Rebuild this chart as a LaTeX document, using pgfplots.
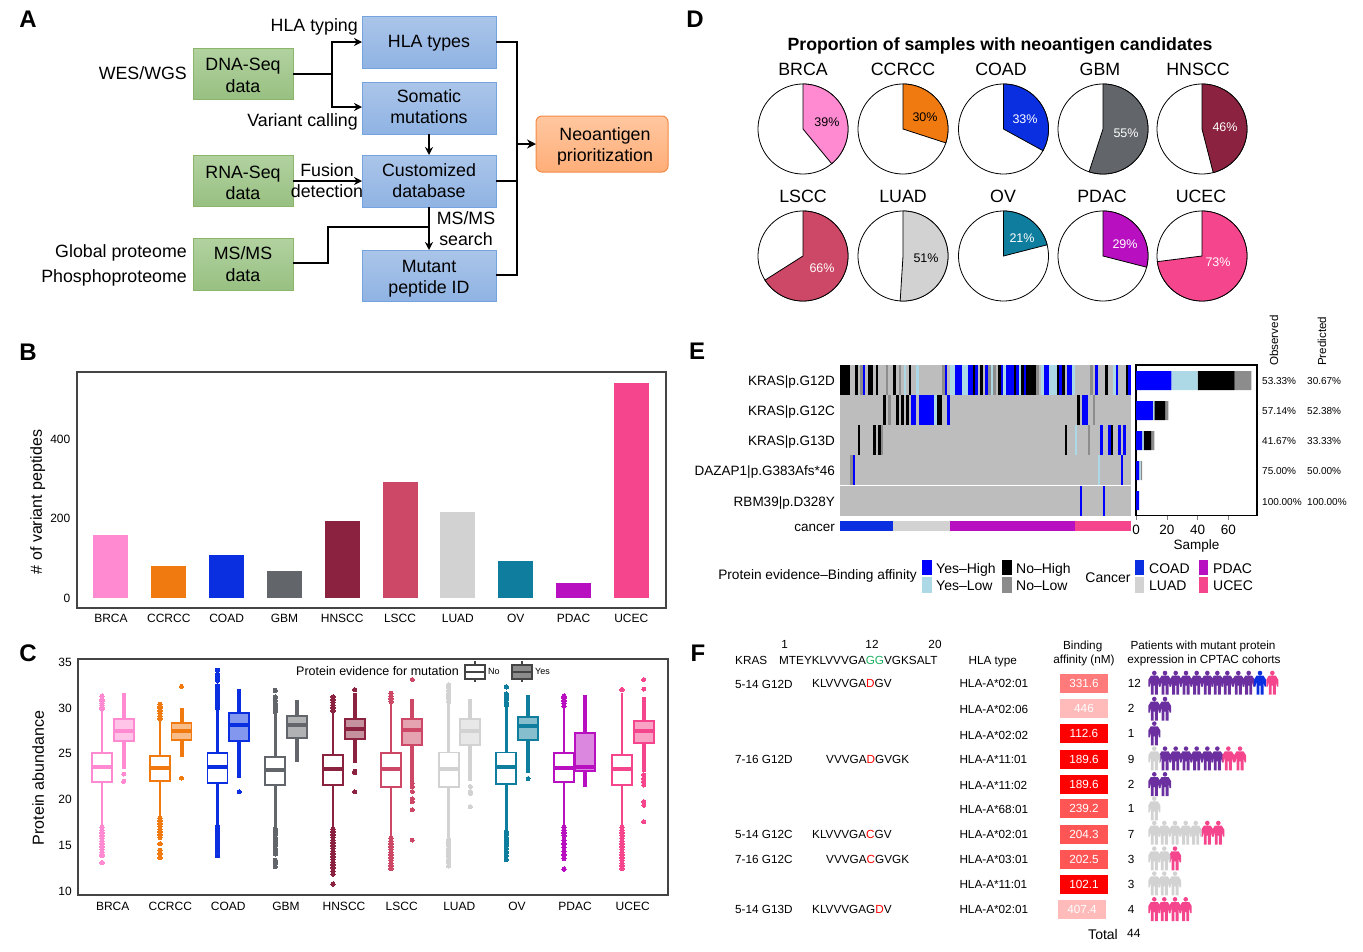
\documentclass[border=0pt]{standalone}
\usepackage{fontspec}
\setmainfont{Liberation Sans}
\usepackage{pgfplots}
\pgfplotsset{compat=1.18}
\usepgfplotslibrary{statistics}
\usetikzlibrary{arrows.meta}
\newcommand\fs[1]{\fontsize{#1}{#1}\selectfont}
\definecolor{cBR}{HTML}{FF8AD2}
\definecolor{cCC}{HTML}{F07A10}
\definecolor{cCO}{HTML}{0A2FE0}
\definecolor{cGB}{HTML}{62666A}
\definecolor{cHN}{HTML}{8B2340}
\definecolor{cLS}{HTML}{CC4866}
\definecolor{cLU}{HTML}{D2D2D2}
\definecolor{cOV}{HTML}{0F7E9E}
\definecolor{cPD}{HTML}{B810C0}
\definecolor{cUC}{HTML}{F5458C}
\definecolor{hb}{HTML}{0000FF}
\definecolor{hl}{HTML}{ADD8E6}
\definecolor{hk}{HTML}{000000}
\definecolor{hg}{HTML}{8C8C8C}
\definecolor{hbg}{HTML}{BDBDBD}
\definecolor{frame}{HTML}{444444}
\definecolor{purp}{HTML}{6B2FA0}
\definecolor{gT}{HTML}{B2D2A0}
\definecolor{gB}{HTML}{98C082}
\definecolor{gE}{HTML}{8AB56A}
\definecolor{bT}{HTML}{ABC5E9}
\definecolor{bB}{HTML}{8FB3E3}
\definecolor{bE}{HTML}{74A3DD}
\definecolor{oT}{HTML}{FFC7A0}
\definecolor{oB}{HTML}{FFAE78}
\definecolor{oE}{HTML}{F28A45}
\definecolor{a1}{HTML}{FF7A7A}
\definecolor{a2}{HTML}{FFBABA}
\definecolor{a3}{HTML}{FF0000}
\definecolor{a4}{HTML}{FF5555}
\definecolor{gr}{HTML}{1DB060}
\newcommand\Tx[5]{\node[anchor=#1,inner sep=0pt,font=\fs{#2},text height={#2*0.72pt},text depth=0pt] at (#3,-#4) {#5};}
\newcommand\Rx[4]{\node[anchor=west,rotate=90,inner sep=0pt,font=\fs{#1},text height={#1*0.72pt},text depth=0pt] at (#2,-#3) {#4};}
\newcommand\Rc[4]{\node[anchor=center,rotate=90,inner sep=0pt,font=\fs{#1},text height={#1*0.72pt},text depth=0pt] at (#2,-#3) {#4};}
\newcommand\Bx[7]{\shade[top color=#5,bottom color=#6,draw=#7,line width=1pt] (#1,-#2) rectangle (#3,-#4);}
% person pictogram
\pgfdeclareplotmark{person}{%
  \pgfpathcircle{\pgfpoint{0pt}{9.7pt}}{2.3pt}%
  \pgfpathmoveto{\pgfpoint{-3.5pt}{7pt}}%
  \pgfpathlineto{\pgfpoint{3.5pt}{7pt}}%
  \pgfpathlineto{\pgfpoint{6pt}{3pt}}%
  \pgfpathlineto{\pgfpoint{6pt}{-4pt}}%
  \pgfpathlineto{\pgfpoint{4.6pt}{-4pt}}%
  \pgfpathlineto{\pgfpoint{3.5pt}{1pt}}%
  \pgfpathlineto{\pgfpoint{3.5pt}{-12pt}}%
  \pgfpathlineto{\pgfpoint{0.6pt}{-12pt}}%
  \pgfpathlineto{\pgfpoint{0.6pt}{-3pt}}%
  \pgfpathlineto{\pgfpoint{-0.6pt}{-3pt}}%
  \pgfpathlineto{\pgfpoint{-0.6pt}{-12pt}}%
  \pgfpathlineto{\pgfpoint{-3.5pt}{-12pt}}%
  \pgfpathlineto{\pgfpoint{-3.5pt}{1pt}}%
  \pgfpathlineto{\pgfpoint{-4.6pt}{-4pt}}%
  \pgfpathlineto{\pgfpoint{-6pt}{-4pt}}%
  \pgfpathlineto{\pgfpoint{-6pt}{3pt}}%
  \pgfpathclose
  \pgfusepathqfill}
% pies
\newcommand\Pie[4]{%
  \addplot[fill=white,draw=black,line width=0.8pt,domain=0:360,samples=90,variable=\t] ({#1+45*sin(\t)},{#2+45*cos(\t)}) -- cycle;
  \addplot[fill=#4,draw=black,line width=0.8pt,domain=0:{#3*3.6},samples=50,variable=\t] ({#1+45*sin(\t)},{#2+45*cos(\t)}) -- (axis cs:#1,#2) -- cycle;
}
% boxplots: color,pos,lw,q1,med,q3,uw,outliers
\newcommand\bxN[8]{\addplot[color=#1,mark=*,mark size=2.2pt,mark options={fill=#1,draw=#1,line width=0pt},
  boxplot prepared={draw position=#2,lower whisker=#3,lower quartile=#4,median=#5,upper quartile=#6,upper whisker=#7,box extend=20,whisker extend=0,
  every box/.style={line width=1.9pt},every median/.style={line width=4pt},every whisker/.style={line width=2.6pt}}] table[row sep=\\,y index=0] {v\\ #8};}
\newcommand\bxY[8]{\addplot[color=#1,mark=*,mark size=2pt,mark options={fill=#1,draw=#1,line width=0pt},
  boxplot prepared={draw position=#2,lower whisker=#3,lower quartile=#4,median=#5,upper quartile=#6,upper whisker=#7,box extend=20,whisker extend=0,
  every median/.style={line width=4pt},every whisker/.style={line width=4pt},every box/.style={line width=1.9pt,fill=#1,fill opacity=0.5,draw opacity=1}}] table[row sep=\\,y index=0] {v\\ #8};}
\newcommand\bxZ[7]{\addplot[color=#1,
  boxplot prepared={draw position=#2,lower whisker=#3,lower quartile=#4,median=#5,upper quartile=#6,upper whisker=#7,box extend=20,whisker extend=0,
  every median/.style={line width=4pt},every whisker/.style={line width=4pt},every box/.style={line width=1.9pt,fill=#1,fill opacity=0.5,draw opacity=1}}] coordinates {};}
\newcommand\sg[4]{\addplot[color=#1,line width=30pt,forget plot] coordinates {(#3,#2) (#4,#2)};}
\newcommand\sgc[4]{\addplot[color=#1,line width=10pt,forget plot] coordinates {(#3,#2) (#4,#2)};}
\newcommand\ppl[2]{\addplot[only marks,mark=person,color=#1,mark options={fill=#1,draw=none},forget plot] coordinates {#2};}
\newcommand\aff[4]{\addplot[color=#1,line width=19pt,forget plot] coordinates {(#2,#4) (#3,#4)};}
\pgfplotsset{pxaxis/.style={scale only axis,hide axis,clip=false}}
\begin{document}
\begin{tikzpicture}[x=1pt,y=1pt]
\useasboundingbox (0,0) rectangle (1363,-951);
% ---------------- Panel letters
\foreach \l/\x/\y in {A/28/19,B/28/352,C/28/653,D/695/19,E/697/351,F/698/653}{
  \node[inner sep=0pt,font=\fs{24}\bfseries,text height=17pt,text depth=0pt] at (\x,-\y) {\l};}
% ---------------- Panel A
\Bx{193}{48}{293}{99}{gT}{gB}{gE}
\Bx{193}{155}{293}{206}{gT}{gB}{gE}
\Bx{193}{238}{293}{290}{gT}{gB}{gE}
\Bx{362}{16}{496}{68}{bT}{bB}{bE}
\Bx{362}{82}{496}{134}{bT}{bB}{bE}
\Bx{362}{155}{496}{207}{bT}{bB}{bE}
\Bx{362}{250}{496}{301}{bT}{bB}{bE}
\shade[top color=oT,bottom color=oB,draw=oE,line width=1pt,rounded corners=6pt] (536,-116) rectangle (668,-172);
\begin{scope}[line width=1.5pt,black]
\draw (293,-74) -- (332,-74);
\draw[-{Stealth[length=8pt,width=8pt]}] (332,-74) |- (362,-42);
\draw[-{Stealth[length=8pt,width=8pt]}] (332,-74) |- (362,-107);
\draw (496,-42) -| (517,-275) -- (496,-275);
\draw (496,-181) -- (517,-181);
\draw[-{Stealth[length=9pt,width=9pt]}] (517,-144) -- (536,-144);
\draw[-{Stealth[length=8pt,width=8pt]}] (429,-134) -- (429,-155);
\draw[-{Stealth[length=8pt,width=8pt]}] (293,-181) -- (362,-181);
\draw[-{Stealth[length=8pt,width=8pt]}] (429,-207) -- (429,-250);
\draw (293,-263) -| (328,-227) -- (429,-227);
\end{scope}
\Tx{center}{17.8}{243}{64}{DNA-Seq}
\Tx{center}{17.8}{243}{86}{data}
\Tx{center}{17.8}{243}{172}{RNA-Seq}
\Tx{center}{17.8}{243}{193}{data}
\Tx{center}{17.8}{243}{253}{MS/MS}
\Tx{center}{17.8}{243}{275}{data}
\Tx{center}{17.8}{429}{41}{HLA types}
\Tx{center}{17.8}{429}{96}{Somatic}
\Tx{center}{17.8}{429}{117}{mutations}
\Tx{center}{17.8}{429}{170}{Customized}
\Tx{center}{17.8}{429}{191}{database}
\Tx{center}{17.8}{429}{266}{Mutant}
\Tx{center}{17.8}{429}{287}{peptide ID}
\Tx{center}{17.8}{605}{134}{Neoantigen}
\Tx{center}{17.8}{605}{155}{prioritization}
\Tx{east}{17.8}{358}{25}{HLA typing}
\Tx{east}{17.8}{187}{73}{WES/WGS}
\Tx{east}{17.8}{358}{120}{Variant calling}
\Tx{center}{17.8}{327}{170}{Fusion}
\Tx{center}{17.8}{327}{191}{detection}
\Tx{center}{17.8}{466}{218}{MS/MS}
\Tx{center}{17.8}{466}{239}{search}
\Tx{east}{17.8}{187}{251}{Global proteome}
\Tx{east}{17.8}{187}{276}{Phosphoproteome}
% ---------------- Panel B
\begin{axis}[scale only axis,at={(77pt,-608pt)},anchor=south west,width=589pt,height=236pt,
  xmin=-0.588,xmax=9.6,ymin=-25,ymax=568.6,ybar,bar width=35pt,
  axis line style={frame,line width=1.2pt},tick style={draw=none},
  xtick={0,...,9},xticklabels={BRCA,CCRCC,COAD,GBM,HNSCC,LSCC,LUAD,OV,PDAC,UCEC},ytick={0,200,400},
  /pgf/number format/assume math mode=true,tick label style={font=\fs{12}},
  xticklabel style={inner sep=2pt}, yticklabel style={inner sep=6.5pt}]
\addplot[fill=cBR,draw=none,bar shift=0pt] coordinates {(0,158)};
\addplot[fill=cCC,draw=none,bar shift=0pt] coordinates {(1,80)};
\addplot[fill=cCO,draw=none,bar shift=0pt] coordinates {(2,108)};
\addplot[fill=cGB,draw=none,bar shift=0pt] coordinates {(3,68)};
\addplot[fill=cHN,draw=none,bar shift=0pt] coordinates {(4,194)};
\addplot[fill=cLS,draw=none,bar shift=0pt] coordinates {(5,292)};
\addplot[fill=cLU,draw=none,bar shift=0pt] coordinates {(6,216)};
\addplot[fill=cOV,draw=none,bar shift=0pt] coordinates {(7,93)};
\addplot[fill=cPD,draw=none,bar shift=0pt] coordinates {(8,38)};
\addplot[fill=cUC,draw=none,bar shift=0pt] coordinates {(9,541)};
\end{axis}
\Rc{16}{36}{502}{\# of variant peptides}
% ---------------- Panel C
\begin{axis}[scale only axis,at={(78pt,-895pt)},anchor=south west,width=590pt,height=236pt,
  xmin=78,xmax=668,ymin=9.62,ymax=35.33,boxplot/draw direction=y,
  axis line style={frame,line width=1.2pt},tick style={draw=none},
  xtick={112.7,170.3,228.3,286,344,401.7,459.3,517,575,632.7},
  xticklabels={BRCA,CCRCC,COAD,GBM,HNSCC,LSCC,LUAD,OV,PDAC,UCEC},ytick={10,15,20,25,30,35},
  /pgf/number format/assume math mode=true,tick label style={font=\fs{12}},
  xticklabel style={inner sep=7pt}, yticklabel style={inner sep=6pt}]
\bxN{cBR}{102}{17.25}{21.9}{23.6}{25.05}{29.8}{29.9\\30.1\\30.3\\30.5\\30.7\\30.9\\31.3\\17\\16.7\\16.4\\16.1\\15.8\\15.5\\15.2\\14.9\\14.6\\14.3\\14\\13.9\\13.15\\}
\bxY{cBR}{123.7}{23.4}{26.4}{27.5}{28.8}{31.6}{22.8\\22\\}
\bxN{cCC}{160}{18.15}{22.05}{23.5}{24.75}{28.7}{28.8\\29.1\\29.4\\29.7\\30\\30.2\\30.4\\18\\17.7\\17.4\\17.1\\16.8\\16.5\\16.2\\15.9\\15.2\\14.5\\14.1\\13.7\\}
\bxY{cCC}{181.5}{24.7}{26.5}{27.5}{28.4}{30}{32.35\\22.35\\}
\bxN{cCO}{217.5}{17.25}{21.8}{23.6}{25.05}{29.8}{30\\30.3\\30.6\\30.9\\31.2\\31.5\\31.8\\32.1\\32.4\\33\\33.3\\33.6\\34.1\\17\\16.7\\16.4\\16.1\\15.8\\15.5\\15.2\\14.9\\14.6\\14.3\\13.9\\}
\bxY{cCO}{239.3}{22.4}{26.4}{28.1}{29.4}{32.1}{20.85\\}
\bxN{cGB}{275.3}{17}{21.6}{23.25}{24.7}{29.4}{29.6\\29.9\\30.2\\30.5\\30.8\\31.2\\31.9\\16.8\\16.5\\16.2\\15.9\\15.6\\15.3\\15\\14.7\\14.4\\14.1\\13.4\\13.1\\12.7\\}
\bxZ{cGB}{297}{24.1}{26.75}{28.1}{29.15}{30.9}
\bxN{cHN}{333}{17.05}{21.6}{23.4}{24.85}{29.5}{29.7\\30\\30.3\\30.6\\30.9\\31.2\\16.8\\16.5\\16.2\\15.9\\15.6\\15.3\\15\\14.7\\14.4\\14.1\\13.8\\13.5\\13.2\\12.9\\12.6\\12.2\\11.9\\10.8\\}
\bxY{cHN}{354.7}{24}{26.65}{27.7}{28.75}{31.6}{32\\23.1\\22.95\\20.85\\}
\bxN{cLS}{391}{16}{21.35}{23.3}{25.05}{30.5}{30.7\\31\\31.3\\31.6\\15.8\\15.5\\15.2\\14.9\\14.6\\14.3\\14\\13.7\\13.4\\13.1\\12.8\\12.5\\}
\bxY{cLS}{412.3}{22}{26}{27.6}{28.75}{31}{33.1\\21.8\\21.4\\20.9\\20.1\\19.8\\18.9\\15.6\\}
\bxN{cLU}{448.7}{15.8}{21.35}{23.35}{25.15}{30.5}{30.7\\31\\31.3\\31.6\\31.9\\32.2\\32.5\\15.6\\15.3\\15\\14.7\\14.4\\14.1\\13.8\\13.5\\13.2\\12.8\\}
\bxY{cLU}{470.3}{22}{26}{27.5}{28.75}{31}{21.45\\20.9\\20.7\\19.25\\}
\bxN{cOV}{506.3}{16.7}{21.7}{23.55}{25.15}{30.1}{30.3\\30.6\\30.9\\31.2\\31.5\\32.3\\16.5\\16.2\\15.9\\15.6\\15.3\\15\\14.7\\14.3\\13.9\\13.5\\}
\bxY{cOV}{528}{22.9}{26.5}{28}{29.05}{31.4}{22.3\\}
\bxN{cPD}{564}{17.25}{21.9}{23.5}{25.05}{30}{30.2\\30.5\\30.8\\31.1\\31.3\\17\\16.7\\16.4\\16.1\\15.6\\15.2\\14.8\\14.4\\14\\13.6\\12.45\\}
\bxZ{cPD}{585.3}{21.4}{23.1}{23.6}{27.25}{31.4}
\bxN{cUC}{622}{17.25}{21.65}{23.4}{24.85}{31.6}{32\\17\\16.7\\16.4\\16.1\\15.8\\15.5\\15.2\\14.9\\14.6\\14.3\\14\\13.7\\13.4\\13.1\\12.8\\12.5\\}
\bxY{cUC}{643.7}{23.05}{26.2}{27.5}{28.6}{31.2}{33.1\\32.05\\22.7\\22.3\\22\\21.6\\19.8\\19.4\\17.6\\}
\end{axis}
\Rc{16}{38}{778}{Protein abundance}
\Tx{east}{12.5}{459}{671}{Protein evidence for mutation}
\Tx{west}{9}{488}{671}{No}
\Tx{west}{9}{535}{671}{Yes}
\draw[frame,line width=1.4pt] (475,-661) -- (475,-682);
\draw[frame,line width=1.4pt,fill=white] (465,-665) rectangle (485,-679);
\draw[frame,line width=1.6pt] (465,-672) -- (485,-672);
\draw[frame,line width=1.4pt] (522,-661) -- (522,-682);
\draw[frame,line width=1.4pt,fill=hg] (512,-665) rectangle (532,-679);
\draw[frame,line width=1.6pt] (512,-672) -- (532,-672);
% ---------------- Panel D
\begin{axis}[pxaxis,at={(750pt,-310pt)},anchor=south west,width=510pt,height=240pt,xmin=750,xmax=1260,ymin=-310,ymax=-70]
\Pie{803}{-129}{39}{cBR}
\Pie{903}{-129}{30}{cCC}
\Pie{1003.5}{-129}{33}{cCO}
\Pie{1103}{-129}{55}{cGB}
\Pie{1202}{-129}{46}{cHN}
\Pie{803}{-256}{66}{cLS}
\Pie{903}{-256}{51}{cLU}
\Pie{1003.5}{-256}{21}{cOV}
\Pie{1103}{-256}{29}{cPD}
\Pie{1202}{-256}{73}{cUC}
\end{axis}
\node[inner sep=0pt,font=\fs{17.7}\bfseries,text height=12.7pt,text depth=0pt] at (1000,-44) {Proportion of samples with neoantigen candidates};
\foreach \n/\x/\y in {BRCA/803/69,CCRCC/903/69,COAD/1001/69,GBM/1100/69,HNSCC/1198/69,LSCC/803/196,LUAD/903/196,OV/1003/196,PDAC/1102/196,UCEC/1201/196}{
  \Tx{center}{17.8}{\x}{\y}{\n}}
\foreach \n/\x/\y in {39/827/121.5,30/925/116.5,51/926/257.5}{\Tx{center}{12.5}{\x}{\y}{\n\%}}
\foreach \n/\x/\y in {33/1025/118.5,55/1126/132.5,46/1225/126.5,66/822/267.5,21/1022/237.5,29/1125/243.5,73/1218/261.5}{
  \node[inner sep=0pt,text=white,font=\fs{12.5},text height=9pt,text depth=0pt] at (\x,-\y) {\n\%};}
% ---------------- Panel E heat
\begin{axis}[pxaxis,at={(840pt,-532pt)},anchor=south west,width=291pt,height=167pt,xmin=30,xmax=903,ymin=-532,ymax=-365]
\sg{hbg}{-380}{30}{903}\sg{hbg}{-410}{30}{903}\sg{hbg}{-440}{30}{903}\sg{hbg}{-470}{30}{903}\sg{hbg}{-500.5}{30}{903}
\sg{hk}{-380}{30}{60}\sg{hk}{-380}{75}{85}\sg{hg}{-380}{90}{99}\sg{hb}{-380}{99}{105}\sg{hk}{-380}{114}{129}\sg{hk}{-380}{138}{144}
\sg{hg}{-380}{168}{174}\sg{hk}{-380}{189}{198}\sg{hg}{-380}{207}{213}\sg{hl}{-380}{222}{228}\sg{hk}{-380}{237}{243}\sg{hl}{-380}{258}{267}
\sg{hg}{-380}{336}{345}\sg{hb}{-380}{345}{351}\sg{hl}{-380}{360}{375}\sg{hb}{-380}{375}{396}\sg{hl}{-380}{396}{414}\sg{hb}{-380}{414}{430}
\sg{hk}{-380}{430}{435}\sg{hb}{-380}{435}{444}\sg{hk}{-380}{450}{459}\sg{hb}{-380}{465}{474}\sg{hg}{-380}{474}{483}\sg{hl}{-380}{483}{490}
\sg{hg}{-380}{490}{498}\sg{hk}{-380}{504}{513}\sg{hb}{-380}{513}{519}\sg{hl}{-380}{519}{528}\sg{hb}{-380}{528}{552}\sg{hk}{-380}{552}{558}
\sg{hb}{-380}{558}{567}\sg{hl}{-380}{567}{573}\sg{hk}{-380}{573}{581}\sg{hb}{-380}{581}{588}\sg{hk}{-380}{588}{618}\sg{hg}{-380}{618}{627}
\sg{hl}{-380}{633}{641}\sg{hb}{-380}{641}{657}\sg{hl}{-380}{657}{681}\sg{hk}{-380}{681}{687}\sg{hb}{-380}{687}{696}\sg{hk}{-380}{696}{705}
\sg{hb}{-380}{711}{726}\sg{hl}{-380}{726}{735}\sg{hg}{-380}{780}{789}\sg{hb}{-380}{795}{804}\sg{hk}{-380}{825}{834}\sg{hl}{-380}{849}{858}
\sg{hb}{-380}{858}{864}\sg{hk}{-380}{888}{894}\sg{hb}{-380}{894}{903}
\sg{hk}{-410}{159}{168}\sg{hg}{-410}{174}{183}\sg{hk}{-410}{198}{207}\sg{hk}{-410}{213}{222}\sg{hk}{-410}{228}{237}\sg{hb}{-410}{243}{258}
\sg{hb}{-410}{267}{312}\sg{hl}{-410}{312}{321}\sg{hk}{-410}{321}{336}\sg{hb}{-410}{351}{360}\sg{hk}{-410}{741}{750}\sg{hb}{-410}{756}{774}\sg{hg}{-410}{789}{795}
\sg{hk}{-440}{84}{90}\sg{hk}{-440}{129}{138}\sg{hk}{-440}{144}{153}\sg{hg}{-440}{153}{159}\sg{hk}{-440}{705}{711}\sg{hl}{-440}{735}{741}
\sg{hg}{-440}{774}{780}\sg{hb}{-440}{810}{819}\sg{hb}{-440}{834}{843}\sg{hk}{-440}{843}{849}\sg{hb}{-440}{864}{873}\sg{hb}{-440}{879}{888}
\sg{hg}{-470}{60}{69}\sg{hb}{-470}{69}{75}\sg{hl}{-470}{804}{810}\sg{hb}{-470}{873}{879}
\sg{hb}{-500.5}{750}{756}\sg{hb}{-500.5}{819}{825}
\sgc{cCO}{-526}{30}{189}\sgc{cLU}{-526}{189}{360}\sgc{cPD}{-526}{360}{735}\sgc{cUC}{-526}{735}{903}
\end{axis}
\foreach \n/\y in {KRAS|p.G12D/380.5,KRAS|p.G12C/410.5,KRAS|p.G13D/440.5,DAZAP1|p.G383Afs*46/470.5,RBM39|p.D328Y/501.5,cancer/526.5}{
  \Tx{east}{13.5}{835}{\y}{\n}}
% ---------------- Panel E bars
\begin{axis}[scale only axis,at={(1136pt,-515.7pt)},anchor=south west,width=121pt,height=150.7pt,
  xbar stacked,bar width=19pt,xmin=0,xmax=78.6,ymin=-515.7,ymax=-365,
  axis line style={black,line width=1.2pt},ymajorticks=false,xtick={0,20,40,60},xtick pos=lower,tick align=outside,
  /pgf/number format/assume math mode=true,tick label style={font=\fs{13.5}},xticklabel style={inner sep=5pt}]
\addplot[fill=hb,draw=none] coordinates {(23,-380.7)(11,-410.7)(4,-440.7)(2,-470.7)(2,-500.7)};
\addplot[fill=hl,draw=none] coordinates {(17,-380.7)(1,-410.7)(1,-440.7)(1,-470.7)(0,-500.7)};
\addplot[fill=hk,draw=none] coordinates {(24,-380.7)(7,-410.7)(5,-440.7)(0,-470.7)(0,-500.7)};
\addplot[fill=hg,draw=none] coordinates {(11,-380.7)(2,-410.7)(2,-440.7)(1,-470.7)(0,-500.7)};
\end{axis}
\Tx{center}{13.5}{1196.5}{545}{Sample}
\foreach \a/\b/\y in {53.33/30.67/381,57.14/52.38/411,41.67/33.33/441,75.00/50.00/471,100.00/100.00/502}{
  \Tx{west}{10}{1262}{\y}{\a\%}\Tx{west}{10}{1307}{\y}{\b\%}}
\Rx{11.6}{1274}{366}{Observed}
\Rx{11.6}{1322}{366}{Predicted}
% legend E
\Tx{east}{13.7}{917}{575}{Protein evidence--Binding affinity}
\fill[hb] (922,-560) rectangle (932,-575);
\fill[hl] (922,-577) rectangle (932,-593);
\fill[hk] (1002,-560) rectangle (1012,-575);
\fill[hg] (1002,-577) rectangle (1012,-593);
\Tx{west}{14}{936}{568}{Yes--High}
\Tx{west}{14}{936}{585}{Yes--Low}
\Tx{west}{14}{1016}{568}{No--High}
\Tx{west}{14}{1016}{585}{No--Low}
\Tx{center}{14}{1108}{577}{Cancer}
\fill[cCO] (1135,-560) rectangle (1144,-575);
\fill[cLU] (1135,-577) rectangle (1144,-593);
\fill[cPD] (1199,-560) rectangle (1208,-575);
\fill[cUC] (1199,-577) rectangle (1208,-593);
\Tx{west}{14}{1149}{568}{COAD}
\Tx{west}{14}{1149}{585}{LUAD}
\Tx{west}{14}{1213}{568}{PDAC}
\Tx{west}{14}{1213}{585}{UCEC}
% ---------------- Panel F
\begin{axis}[pxaxis,at={(1050pt,-925pt)},anchor=south west,width=240pt,height=255pt,xmin=1050,xmax=1290,ymin=-925,ymax=-670]
\aff{a1}{1060}{1108}{-683}
\aff{a2}{1060}{1108}{-708.7}
\aff{a3}{1060}{1108}{-733.7}
\aff{a3}{1060}{1108}{-759}
\aff{a3}{1060}{1108}{-784}
\aff{a4}{1060}{1108}{-808}
\aff{a4}{1060}{1108}{-834}
\aff{a4}{1060}{1108}{-859}
\aff{a3}{1060}{1108}{-884}
\aff{a2}{1058}{1106}{-909.3}
\ppl{purp}{(1154.3,-682.7)(1165,-682.7)(1175.7,-682.7)(1186,-682.7)(1196.7,-682.7)(1207.3,-682.7)(1217.3,-682.7)(1227.3,-682.7)(1238.3,-682.7)(1248.7,-682.7)(1154.3,-708.7)(1165,-708.7)(1154.3,-733.3)(1165,-758.3)(1175.7,-758.3)(1186,-758.3)(1196.7,-758.3)(1207.3,-758.3)(1217.3,-758.3)(1154.3,-784)(1165,-784)}
\ppl{cCO}{(1260,-682.7)}
\ppl{cUC}{(1272.3,-682.7)(1228.3,-758.3)(1240,-758.3)(1207.3,-832.7)(1218.3,-832.7)(1175,-858.3)(1154.3,-909)(1164.3,-909)(1175,-909)(1185.7,-909)}
\ppl{cLU}{(1154.3,-758.3)(1154.3,-808.3)(1154.3,-832.7)(1164.3,-832.7)(1175,-832.7)(1185.7,-832.7)(1195.7,-832.7)(1154.3,-858.3)(1164.3,-858.3)(1154.3,-883.3)(1164.3,-883.3)(1175,-883.3)}
\end{axis}
\foreach \n/\x in {1/784.7,12/872,20/935}{\Tx{center}{11.75}{\x}{644}{\n}}
\Tx{west}{11.75}{735}{660}{KRAS}
\Tx{west}{11.75}{779}{660}{MTEYKLVVVGA\textcolor{gr}{GG}VGKSALT}
\Tx{center}{11.75}{992.7}{660}{HLA type}
\Tx{center}{11.75}{1082.7}{645}{Binding}
\Tx{center}{11.75}{1084}{659}{affinity (nM)}
\Tx{center}{11.75}{1203}{645}{Patients with mutant protein}
\Tx{center}{11.75}{1204}{659}{expression in CPTAC cohorts}
\Tx{west}{11.75}{735}{684}{5-14 G12D}
\Tx{west}{11.75}{735}{759}{7-16 G12D}
\Tx{west}{11.75}{735}{834}{5-14 G12C}
\Tx{west}{11.75}{735}{859}{7-16 G12C}
\Tx{west}{11.75}{735}{909}{5-14 G13D}
\Tx{west}{11.75}{812}{683}{KLVVVGA\textcolor{red}{D}GV}
\Tx{west}{11.75}{826}{759}{VVVGA\textcolor{red}{D}GVGK}
\Tx{west}{11.75}{812}{834}{KLVVVGA\textcolor{red}{C}GV}
\Tx{west}{11.75}{826}{859}{VVVGA\textcolor{red}{C}GVGK}
\Tx{west}{11.75}{812}{909}{KLVVVGAG\textcolor{red}{D}V}
\foreach \n/\y in {02:01/683,02:06/709,02:02/735,11:01/759,11:02/785,68:01/809,02:01/834,03:01/859,11:01/884,02:01/909.5}{
  \Tx{west}{11.75}{959.3}{\y}{HLA-A*\n}}
\foreach \n/\x/\y in {331.6/1084/683,446/1084/708.7,112.6/1084/733.7,189.6/1084/759,189.6/1084/784,239.2/1084/808,204.3/1084/834,202.5/1084/859,102.1/1084/884,407.4/1082/909.3}{
  \node[inner sep=0pt,text=white,font=\fs{11.75},text height=8.5pt,text depth=0pt] at (\x,-\y) {\n};}
\foreach \n/\y in {12/683,2/708.7,1/733.7,9/759,2/784,1/808,7/834,3/859,3/884,4/909.3}{
  \Tx{west}{11.75}{1127.7}{\y}{\n}}
\Tx{east}{14}{1118}{934}{Total}
\Tx{west}{12}{1127}{933}{44}
\end{tikzpicture}
\end{document}
